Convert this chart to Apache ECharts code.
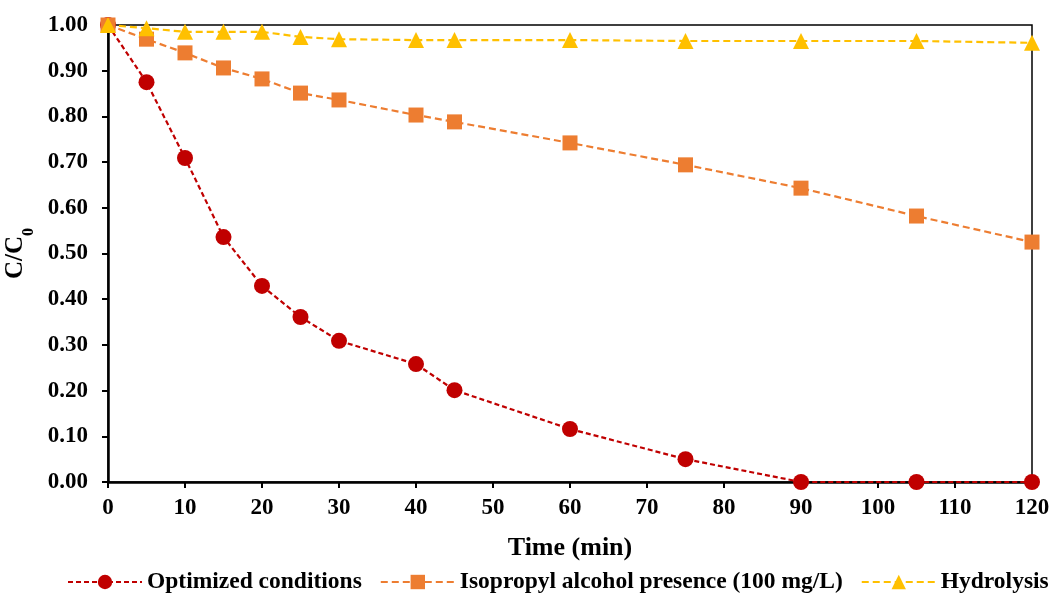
<!DOCTYPE html>
<html>
<head>
<meta charset="utf-8">
<title>C/C0 vs Time</title>
<script src="https://cdn.jsdelivr.net/npm/echarts@6/dist/echarts.min.js"></script>
<style>
    html, body { margin: 0; padding: 0; background: #fff; }
    #container { width: 1053px; height: 596px; }
</style>
</head>
<body>
<div id="container"></div>
<script type="text/javascript">
    // time (min)
    var times = [0, 5, 10, 15, 20, 25, 30, 40, 45, 60, 75, 90, 105, 120];
    var optimized = [1.00, 0.875, 0.709, 0.536, 0.429, 0.361, 0.309, 0.258, 0.201, 0.116, 0.050, 0.000, 0.000, 0.000];
    var isopropyl = [1.00, 0.969, 0.939, 0.906, 0.882, 0.851, 0.836, 0.803, 0.788, 0.742, 0.694, 0.643, 0.582, 0.525];
    var hydrolysis = [1.00, 0.993, 0.985, 0.985, 0.985, 0.974, 0.969, 0.967, 0.967, 0.967, 0.965, 0.965, 0.965, 0.961];
    var seriesNames = ['Optimized conditions', 'Isopropyl alcohol presence (100 mg/L)', 'Hydrolysis'];

    function pairs(ys) {
        return times.map(function (t, i) { return [t, ys[i]]; });
    }

    var font = 'Liberation Serif, Times New Roman, serif';

    function lineSeries(name, ys, color, symbol, size, dash) {
        return {
            name: name,
            type: 'line',
            data: pairs(ys),
            symbol: symbol,
            symbolSize: size,
            color: color,
            itemStyle: { color: color },
            lineStyle: { color: color, width: 2.2, type: dash }
        };
    }

    var myChart = echarts.init(document.getElementById('container'));

    var option = {
        animation: false,
        backgroundColor: '#fff',
        grid: {
            left: 108, right: 21, top: 25, bottom: 114,
            outerBoundsMode: 'none',
            containLabel: false,
            show: true, borderColor: '#000', borderWidth: 1.5
        },
        legend: {
            bottom: -3,
            left: 62,
            width: 1000,
            itemWidth: 74,
            itemHeight: 18,
            itemGap: 18,
            textStyle: { fontFamily: font, fontWeight: 'bold', fontSize: 23.5, color: '#000' },
            data: seriesNames
        },
        xAxis: {
            type: 'value',
            min: 0, max: 120, interval: 10,
            name: 'Time (min)',
            nameLocation: 'middle',
            nameGap: 53,
            nameTextStyle: { fontFamily: font, fontWeight: 'bold', fontSize: 26, color: '#000' },
            axisLine: { show: true, lineStyle: { color: '#000', width: 2.5 } },
            axisTick: { show: true, inside: false, length: 6, lineStyle: { color: '#000', width: 2 } },
            axisLabel: { margin: 15, fontFamily: font, fontWeight: 'bold', fontSize: 23, color: '#000' },
            splitLine: { show: false }
        },
        yAxis: {
            type: 'value',
            min: 0, max: 1, interval: 0.1,
            name: '{a|C/C}{s|0}',
            nameLocation: 'middle',
            nameGap: 62,
            nameRotate: 90,
            nameTextStyle: {
                rich: {
                    a: { fontFamily: font, fontWeight: 'bold', fontSize: 25, color: '#000' },
                    s: { fontFamily: font, fontWeight: 'bold', fontSize: 16, color: '#000', verticalAlign: 'bottom', padding: [0, 0, -9, 0] }
                }
            },
            axisLine: { show: true, lineStyle: { color: '#000', width: 2.5 } },
            axisTick: { show: true, inside: false, length: 6, lineStyle: { color: '#000', width: 2 } },
            axisLabel: {
                margin: 20, fontFamily: font, fontWeight: 'bold', fontSize: 23, color: '#000',
                formatter: function (v) { return v.toFixed(2); }
            },
            splitLine: { show: false }
        },
        series: [
            lineSeries(seriesNames[0], optimized, '#C00000', 'circle', 16, [5, 3]),
            lineSeries(seriesNames[1], isopropyl, '#ED7D31', 'rect', 15, [7, 4]),
            lineSeries(seriesNames[2], hydrolysis, '#FFC000', 'triangle', 16, [7, 4])
        ]
    };

    myChart.setOption(option, true);
</script>
</body>
</html>
